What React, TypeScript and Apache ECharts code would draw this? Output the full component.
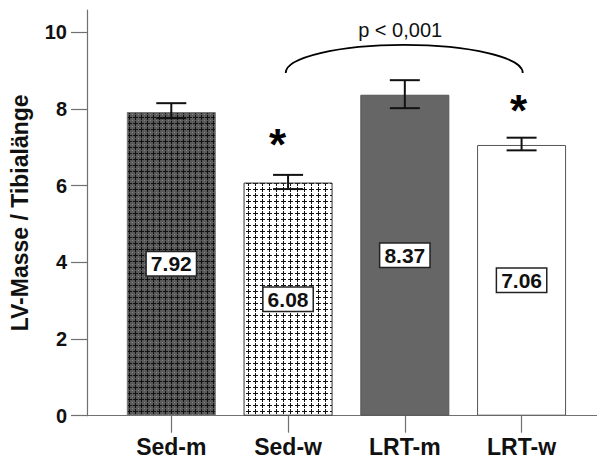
import React, { useEffect, useRef } from 'react';
import * as echarts from 'echarts';

const categories = ['Sed-m', 'Sed-w', 'LRT-m', 'LRT-w'];
const means = [7.92, 6.08, 8.37, 7.06];
const errLow = [7.76, 5.91, 8.02, 6.92];
const errHigh = [8.15, 6.28, 8.75, 7.25];
const yTicks = [0, 2, 4, 6, 8, 10];
const xTicks = [0, 1, 2, 3];
const starX = [0.91, 2.975];
const starY = [7.08, 7.95];
const bracketX = [0.98, 3.01];
const bracketY = [8.94, 9.67];
const pText = 'p < 0,001';
const pPos = [1.96, 10.07];

const FONT = 'Arial, "Liberation Sans", sans-serif';

function makePattern(w: number, h: number, bg: string, draw: (ctx: CanvasRenderingContext2D) => void) {
  const c = document.createElement('canvas');
  c.width = w;
  c.height = h;
  const ctx = c.getContext('2d')!;
  ctx.fillStyle = bg;
  ctx.fillRect(0, 0, w, h);
  draw(ctx);
  return { image: c, repeat: 'repeat', imageWidth: w, imageHeight: h } as any;
}

export default function App() {
  const ref = useRef<HTMLDivElement>(null);
  useEffect(() => {
    if (!ref.current) return;
    const chart = echarts.init(ref.current, undefined, { renderer: 'svg' });

    const darkCross = makePattern(6, 6, '#5a5a5a', (ctx) => {
      ctx.fillStyle = '#858585';
      ctx.fillRect(0, 0, 1, 1);
      ctx.fillStyle = '#111';
      ctx.fillRect(1, 3, 5, 1);
      ctx.fillRect(3, 1, 1, 5);
    });
    const lightCross = makePattern(7, 6, '#ffffff', (ctx) => {
      ctx.fillStyle = '#111';
      ctx.fillRect(1, 3, 5, 1);
      ctx.fillRect(3, 1, 1, 5);
    });
    const fills: any[] = [darkCross, lightCross, '#666666', '#ffffff'];
    const borders = ['#777777', '#333333', '#555555', '#555555'];

    const option: any = {
      animation: false,
      backgroundColor: '#ffffff',
      grid: { left: 83, right: 0, top: 10, bottom: 43.3, containLabel: false },
      xAxis: {
        type: 'value',
        min: -0.722,
        max: 3.646,
        splitLine: { show: false },
        axisLine: { show: true, onZero: false, lineStyle: { color: '#707070', width: 1.2 } },
        axisTick: { show: true, customValues: xTicks, length: 17, lineStyle: { color: '#707070', width: 1.2 } },
        axisLabel: {
          customValues: xTicks,
          formatter: (v: number) => categories[Math.round(v)] ?? '',
          fontFamily: FONT,
          fontWeight: 'bold',
          fontSize: 23,
          color: '#111',
          margin: 20,
        },
      },
      yAxis: {
        type: 'value',
        min: 0,
        max: 10.58,
        name: 'LV-Masse / Tibialänge',
        nameLocation: 'middle',
        nameRotate: 90,
        nameGap: 56,
        nameTextStyle: { fontFamily: FONT, fontWeight: 'bold', fontSize: 23, color: '#111' },
        splitLine: { show: false },
        axisLine: { show: true, onZero: false, lineStyle: { color: '#707070', width: 1.2 } },
        axisTick: { show: true, customValues: yTicks, length: 16, lineStyle: { color: '#707070', width: 1.2 } },
        axisLabel: {
          customValues: yTicks,
          fontFamily: FONT,
          fontWeight: 'bold',
          fontSize: 20,
          color: '#111',
          margin: 20,
        },
      },
      series: [
        {
          type: 'bar',
          barWidth: 89,
          z: 2,
          data: means.map((v, i) => ({
            value: [i, v],
            itemStyle: { color: fills[i], borderColor: borders[i], borderWidth: 1 },
          })),
          label: {
            show: true,
            position: 'inside',
            formatter: (p: any) => means[p.dataIndex].toFixed(2),
            fontFamily: FONT,
            fontWeight: 'bold',
            fontSize: 21,
            color: '#111',
            backgroundColor: '#ffffff',
            borderColor: '#222',
            borderWidth: 1.5,
            padding: [1, 4, 1, 4],
          },
        },
        {
          type: 'custom',
          z: 5,
          data: means.map((_, i) => [i, errLow[i], errHigh[i]]),
          renderItem: (params: any, api: any) => {
            const x = api.value(0);
            const lo = api.coord([x, api.value(1)]);
            const hi = api.coord([x, api.value(2)]);
            const hw = 15;
            const st = { stroke: '#111', lineWidth: 2 };
            return {
              type: 'group',
              children: [
                { type: 'line', shape: { x1: lo[0], y1: lo[1], x2: hi[0], y2: hi[1] }, style: st },
                { type: 'line', shape: { x1: lo[0] - hw, y1: lo[1], x2: lo[0] + hw, y2: lo[1] }, style: st },
                { type: 'line', shape: { x1: hi[0] - hw, y1: hi[1], x2: hi[0] + hw, y2: hi[1] }, style: st },
              ],
            };
          },
        },
        {
          type: 'custom',
          z: 5,
          data: starX.map((x, i) => [x, starY[i]]),
          renderItem: (params: any, api: any) => {
            const p = api.coord([api.value(0), api.value(1)]);
            return {
              type: 'text',
              x: p[0],
              y: p[1],
              style: {
                text: '*',
                fontFamily: FONT,
                fontWeight: 'bold',
                fontSize: 44,
                fill: '#000',
                align: 'center',
                verticalAlign: 'middle',
              },
            };
          },
        },
        {
          type: 'custom',
          z: 5,
          data: [[bracketX[0], bracketX[1], bracketY[0], bracketY[1], pPos[0], pPos[1]]],
          renderItem: (params: any, api: any) => {
            const a = api.coord([api.value(0), api.value(2)]);
            const b = api.coord([api.value(1), api.value(2)]);
            const t = api.coord([api.value(0), api.value(3)]);
            const tp = api.coord([api.value(4), api.value(5)]);
            const xc = (a[0] + b[0]) / 2;
            const rx = (b[0] - a[0]) / 2;
            const ry = a[1] - t[1];
            const k = 0.5523;
            const yt = t[1];
            const d =
              `M${a[0]} ${a[1]} C${a[0]} ${a[1] - k * ry} ${xc - k * rx} ${yt} ${xc} ${yt} ` +
              `C${xc + k * rx} ${yt} ${b[0]} ${a[1] - k * ry} ${b[0]} ${b[1]}`;
            return {
              type: 'group',
              children: [
                { type: 'path', shape: { pathData: d }, style: { stroke: '#000', lineWidth: 1.8, fill: 'none' } },
                {
                  type: 'text',
                  x: tp[0],
                  y: tp[1],
                  style: {
                    text: pText,
                    fontFamily: FONT,
                    fontSize: 20,
                    fill: '#111',
                    align: 'center',
                    verticalAlign: 'middle',
                  },
                },
              ],
            };
          },
        },
      ],
    };
    chart.setOption(option);
    return () => chart.dispose();
  }, []);
  return (
    <div
      ref={ref}
      style={{ position: 'fixed', left: 0, top: 0, width: 597, height: 459, background: '#fff' }}
    />
  );
}
